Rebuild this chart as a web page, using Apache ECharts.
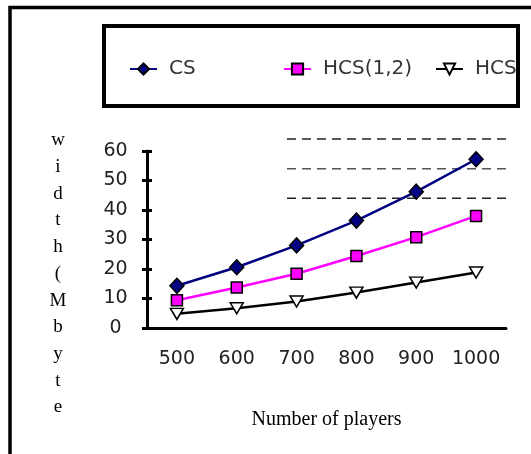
<!DOCTYPE html>
<html>
<head>
<meta charset="utf-8">
<script src="https://cdn.jsdelivr.net/npm/echarts@6/dist/echarts.min.js"></script>
<style>html,body{margin:0;padding:0;background:#fff;}#c{width:531px;height:454px;}</style>
</head>
<body>
<div id="c"></div>
<script>
var categories = ['500', '600', '700', '800', '900', '1000'];
var csValues = [14.3, 20.6, 28.0, 36.4, 46.2, 57.2];
var hcs12Values = [9.4, 13.7, 18.4, 24.4, 30.8, 38.0];
var hcsValues = [4.8, 6.7, 9.0, 12.0, 15.4, 18.8];
var yTicks = [0, 10, 20, 30, 40, 50, 60];
var seriesNames = ['CS', 'HCS(1,2)', 'HCS'];
var yAxisName = 'width(Mbytes';
var xAxisName = 'Number of players';

var chart = echarts.init(document.getElementById('c'));
var tickFont = {fontFamily: 'DejaVu Sans', fontSize: 19, color: '#222'};
var legendBase = {orient: 'horizontal', padding: 0, itemWidth: 27, itemHeight: 14, top: 59,
  textStyle: {fontFamily: 'DejaVu Sans', fontSize: 20, color: '#333', padding: [0, 0, 0, 7]}};
var triPath = 'path://M0,0 L10,0 L5,9 Z';
chart.setOption({
  animation: false,
  backgroundColor: '#fff',
  grid: {left: 147, right: 25, top: 151, bottom: 126, containLabel: false},
  legend: [
    Object.assign({}, legendBase, {left: 129, data: [seriesNames[0]]}),
    Object.assign({}, legendBase, {left: 283, data: [seriesNames[1]]}),
    Object.assign({}, legendBase, {left: 435, data: [seriesNames[2]]})
  ],
  xAxis: {
    type: 'category', data: categories, boundaryGap: true,
    axisLine: {lineStyle: {color: '#000', width: 3}},
    axisTick: {show: false},
    axisLabel: Object.assign({margin: 22, interval: 0, hideOverlap: false}, tickFont),
    name: xAxisName, nameLocation: 'middle', nameGap: 82,
    nameTextStyle: {fontFamily: 'Liberation Serif', fontSize: 20, color: '#000'}
  },
  yAxis: [{
    type: 'value', min: yTicks[0], max: yTicks[yTicks.length - 1], interval: 10,
    axisLine: {show: true, lineStyle: {color: '#000', width: 3}},
    axisTick: {show: true, length: 5, lineStyle: {color: '#000', width: 3}},
    axisLabel: Object.assign({margin: 31.5, align: 'center'}, tickFont),
    splitLine: {show: false}
  }, {
    type: 'value', min: yTicks[0], max: yTicks[yTicks.length - 1], interval: 10, position: 'left',
    axisLine: {show: false},
    axisTick: {show: true, inside: true, length: 5, lineStyle: {color: '#000', width: 3}},
    axisLabel: {show: false},
    splitLine: {show: false}
  }],
  series: [{
    name: seriesNames[0], type: 'line', data: csValues,
    symbol: 'diamond', symbolSize: [14, 15],
    lineStyle: {color: '#000080', width: 2.5},
    itemStyle: {color: '#000080', borderColor: '#000', borderWidth: 1.5}, z: 4
  }, {
    name: seriesNames[1], type: 'line', data: hcs12Values,
    symbol: 'rect', symbolSize: 11,
    lineStyle: {color: '#ff00ff', width: 2.5},
    itemStyle: {color: '#ff00ff', borderColor: '#000', borderWidth: 1.5}, z: 3
  }, {
    name: seriesNames[2], type: 'line', data: hcsValues,
    symbol: triPath, symbolSize: [13, 11],
    lineStyle: {color: '#000', width: 2.5},
    itemStyle: {color: '#fff', borderColor: '#000', borderWidth: 1.5}, z: 2
  }],
  graphic: [
    {type: 'text', left: 48, top: 127, z: 1,
      style: {text: yAxisName.split('').join('\n'), font: '19px "Liberation Serif"', fill: '#000',
        textAlign: 'center', lineHeight: 26.7, width: 20}},
    {type: 'rect', shape: {x: 14, y: 428, width: 90, height: 30}, style: {fill: '#fff'}, z: 5},
    {type: 'line', shape: {x1: 287, y1: 139, x2: 507, y2: 139}, style: {stroke: '#222', lineWidth: 1.5, lineDash: [9, 6]}, z: 1},
    {type: 'line', shape: {x1: 287, y1: 168.7, x2: 507, y2: 168.7}, style: {stroke: '#555', lineWidth: 1.5, lineDash: [9, 6]}, z: 1},
    {type: 'line', shape: {x1: 287, y1: 198.3, x2: 507, y2: 198.3}, style: {stroke: '#222', lineWidth: 1.5, lineDash: [9, 6]}, z: 1},
    {type: 'rect', shape: {x: 104, y: 26, width: 414, height: 80}, style: {fill: 'none', stroke: '#000', lineWidth: 4}, z: 6},
    {type: 'rect', shape: {x: 10, y: 7.5, width: 700, height: 700}, style: {fill: 'none', stroke: '#000', lineWidth: 3.5}, z: 6}
  ]
});
</script>
</body>
</html>
